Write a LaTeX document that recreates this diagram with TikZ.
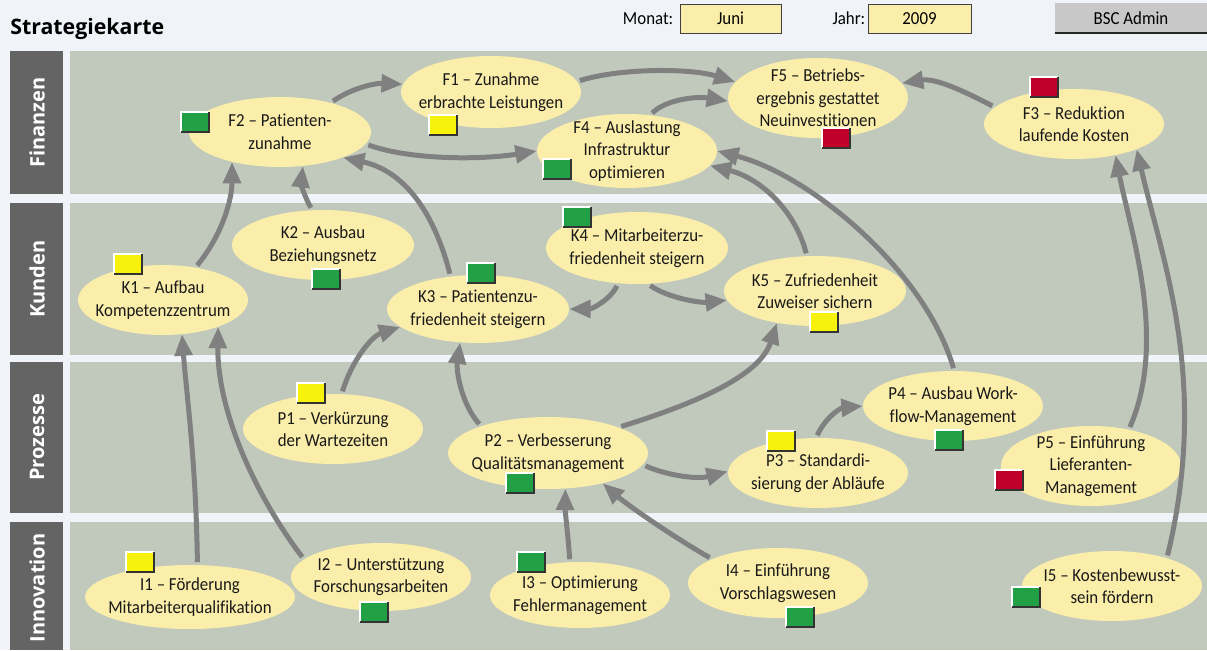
\documentclass[tikz,border=0pt]{standalone}
\usepackage{fontspec}
\setmainfont{Carlito}[Ligatures=NoCommon, FakeStretch=0.92]
\newfontfamily\widefont{Open Sans}
\usetikzlibrary{arrows.meta,shapes.geometric}
\definecolor{pagebg}{HTML}{F0F4F9}
\definecolor{lanegray}{HTML}{C1C9BD}
\definecolor{labelgray}{HTML}{646464}
\definecolor{goalyellow}{HTML}{FAEEAA}
\definecolor{linkgray}{HTML}{808080}
\definecolor{stgreen}{HTML}{22A046}
\definecolor{styellow}{HTML}{F6F20C}
\definecolor{stred}{HTML}{C0002A}
\definecolor{btngray}{HTML}{C8C8C8}

\tikzset{
  goal/.style={ellipse, fill=goalyellow, inner sep=0pt},
  goaltext/.style={align=center, inner sep=0pt, text=black!90,
    font=\fontsize{13.75pt}{16.9pt}\selectfont},
  link/.style={draw=linkgray, line width=3.75pt, shorten <=2pt,
    -{Triangle[length=16pt,width=13pt]}},
  ampel/.style={anchor=north west, minimum width=21pt, minimum height=15pt,
    inner sep=0pt, outer sep=0pt},
  lanelabel/.style={text=white, rotate=90, inner sep=0pt,
    font=\widefont\bfseries\fontsize{15pt}{18pt}\selectfont},
  field/.style={draw=black!75, line width=0.75pt, fill=goalyellow, inner sep=0pt,
    minimum width=#1, minimum height=21.75pt,
    font=\fontsize{13.75pt}{15pt}\selectfont},
  hdr/.style={font=\fontsize{13.75pt}{15pt}\selectfont, inner sep=1.5pt}
}

% name, x, y, width, height (px), text
\newcommand\ziel[6]{%
  \node[goal, minimum width=#4*0.75pt, minimum height=#5*0.75pt] (#1) at (#2,-#3) {};
  \node[goaltext] (#1t) at (#1) {#6};}
% name, x, y (top left), colour
\newcommand\ampel[4]{%
  \node[ampel, fill=#4] (#1) at (#2,-#3) {};
  \draw[white, line width=1.5pt] (#1.south west) |- (#1.north east);
  \draw[black!80, line width=1.5pt] (#1.south west) -| (#1.north east);}

\begin{document}
\begin{tikzpicture}[x=0.75pt,y=0.75pt]
\useasboundingbox (0,0) rectangle (1207,-650);
\fill[pagebg] (0,0) rectangle (1207,-650);

% header
\node[anchor=base west, inner sep=0pt, font=\widefont\bfseries\fontsize{16pt}{19pt}\selectfont] (titel) at (10,-34) {Strategiekarte};
\node[field=75.75pt] (monat) at (730.5,-18.5) {Juni};
\node[hdr, anchor=east] (monatlbl) at ([xshift=-3pt]monat.west) {Monat:};
\node[field=77.25pt] (jahr) at (919.5,-18.5) {2009};
\node[hdr, anchor=east] (jahrlbl) at (jahr.west) {Jahr:};
\node[fill=btngray, minimum width=114pt, minimum height=22.5pt, inner sep=0pt,
  font=\fontsize{13.75pt}{15pt}\selectfont] (admin) at (1131,-18) {BSC Admin};
\draw[black!85, line width=1.5pt] (admin.south west) -- (admin.south east);

% lanes
\fill[labelgray] (10,-51) rectangle (63,-194);
\fill[labelgray] (10,-203) rectangle (63,-355);
\fill[labelgray] (10,-362) rectangle (63,-513);
\fill[labelgray] (10,-522) rectangle (63,-650);
\fill[lanegray] (70,-51) rectangle (1207,-194);
\fill[lanegray] (70,-203) rectangle (1207,-355);
\fill[lanegray] (70,-362) rectangle (1207,-513);
\fill[lanegray] (70,-522) rectangle (1207,-650);
\node[lanelabel] (finanzen) at (37,-122.5) {Finanzen};
\node[lanelabel] (kunden) at (37,-279) {Kunden};
\node[lanelabel] (prozesse) at (37,-437.5) {Prozesse};
\node[lanelabel] (innovation) at (37,-588) {Innovation};

% goals
\ziel{f1}{491}{92}{180}{72}{F1 – Zunahme\\erbrachte Leistungen}
\ziel{f2}{280}{132}{182}{70}{F2 – Patienten-\\zunahme}
\ziel{f3}{1074}{124}{180}{70}{F3 – Reduktion\\laufende Kosten}
\ziel{f4}{627}{151}{180}{74}{F4 – Auslastung\\Infrastruktur\\optimieren}
\ziel{f5}{818}{98}{180}{80}{F5 – Betriebs-\\ergebnis gestattet\\Neuinvestitionen}
\ziel{k1}{163}{300}{170}{70}{K1 – Aufbau\\Kompetenzzentrum}
\ziel{k2}{323}{245}{182}{70}{K2 – Ausbau\\Beziehungsnetz}
\ziel{k3}{478}{309}{182}{68}{K3 – Patientenzu-\\friedenheit steigern}
\ziel{k4}{637}{248}{182}{72}{K4 – Mitarbeiterzu-\\friedenheit steigern}
\ziel{k5}{815}{291}{182}{70}{K5 – Zufriedenheit\\Zuweiser sichern}
\ziel{p1}{333}{429}{180}{70}{P1 – Verkürzung\\der Wartezeiten}
\ziel{p2}{548}{453}{200}{72}{P2 – Verbesserung\\Qualitätsmanagement}
\ziel{p3}{818}{473}{180}{70}{P3 – Standardi-\\sierung der Abläufe}
\ziel{p4}{953}{406}{180}{70}{P4 – Ausbau Work-\\flow-Management}
\ziel{p5}{1091}{466}{180}{80}{P5 – Einführung\\Lieferanten-\\Management}
\ziel{i1}{190}{597}{210}{64}{I1 – Förderung\\Mitarbeiterqualifikation}
\ziel{i2}{381}{577}{180}{68}{I2 – Unterstützung\\Forschungsarbeiten}
\ziel{i3}{580}{595}{180}{66}{I3 – Optimierung\\Fehlermanagement}
\ziel{i4}{778}{583}{180}{70}{I4 – Einführung\\Vorschlagswesen}
\ziel{i5}{1112}{586}{180}{70}{I5 – Kostenbewusst-\\sein fördern}

% links
\draw[link] (f2.30) .. controls (352,-88) and (375,-83) .. (f1.175);
\draw[link] (f1.7) .. controls (620,-68) and (690,-68) .. (f5.169);
\draw[link] (f4.57) .. controls (665,-100) and (695,-96) .. (f5.182);
\draw[link] (f2.352) .. controls (410,-160) and (480,-160) .. (f4.180);
\draw[link] (f3.168) .. controls (962,-90) and (935,-78) .. (f5.10);
\draw[link] (k1.45) .. controls (222,-235) and (232,-200) .. (f2.212);
\draw[link] (k2.107) .. controls (305,-198) and (301,-183) .. (f2.304);
\draw[link] (k3.130) .. controls (432,-205) and (400,-170) .. (f2.338);
\draw[link] (k4.242) .. controls (610,-300) and (592,-309) .. (k3.0);
\draw[link] (k4.287) .. controls (668,-298) and (700,-303) .. (k5.186);
\draw[link] (k5.103) .. controls (795,-210) and (760,-178) .. (f4.350);
\draw[link] (p4.88) .. controls (925,-270) and (810,-175) .. (f4.0);
\draw[link] (p1.76) .. controls (352,-360) and (372,-336) .. (k3.193);
\draw[link] (p2.158) .. controls (462,-405) and (456,-372) .. (k3.242);
\draw[link] (p2.20) .. controls (700,-402) and (760,-375) .. (k5.220);
\draw[link] (p2.353) .. controls (663,-474) and (695,-480) .. (p3.179);
\draw[link] (p3.93) .. controls (825,-418) and (840,-408) .. (p4.180);
\draw[link] (p5.44) .. controls (1168,-340) and (1130,-230) .. (f3.323);
\draw[link] (i5.27) .. controls (1210,-380) and (1162,-260) .. (f3.338);
\draw[link] (i1.77) .. controls (196,-460) and (186,-390) .. (k1.299);
\draw[link] (i2.167) .. controls (255,-495) and (217,-410) .. (k1.334);
\draw[link] (i3.107) .. controls (568,-535) and (565,-510) .. (p2.296);
\draw[link] (i4.160) .. controls (670,-535) and (625,-503) .. (p2.331);

% status
\ampel{f1s}{429}{115}{styellow}
\ampel{f2s}{181}{112}{stgreen}
\ampel{f3s}{1030}{77}{stred}
\ampel{f4s}{543}{159}{stgreen}
\ampel{f5s}{822}{128}{stred}
\ampel{k1s}{114}{254}{styellow}
\ampel{k2s}{312}{269}{stgreen}
\ampel{k3s}{467}{263}{stgreen}
\ampel{k4s}{563}{207}{stgreen}
\ampel{k5s}{810}{312}{styellow}
\ampel{p1s}{297}{383}{styellow}
\ampel{p2s}{506}{473}{stgreen}
\ampel{p3s}{767}{431}{styellow}
\ampel{p4s}{935}{430}{stgreen}
\ampel{p5s}{995}{470}{stred}
\ampel{i1s}{126}{552}{styellow}
\ampel{i2s}{360}{602}{stgreen}
\ampel{i3s}{517}{552}{stgreen}
\ampel{i4s}{786}{607}{stgreen}
\ampel{i5s}{1012}{587}{stgreen}
\end{tikzpicture}
\end{document}
